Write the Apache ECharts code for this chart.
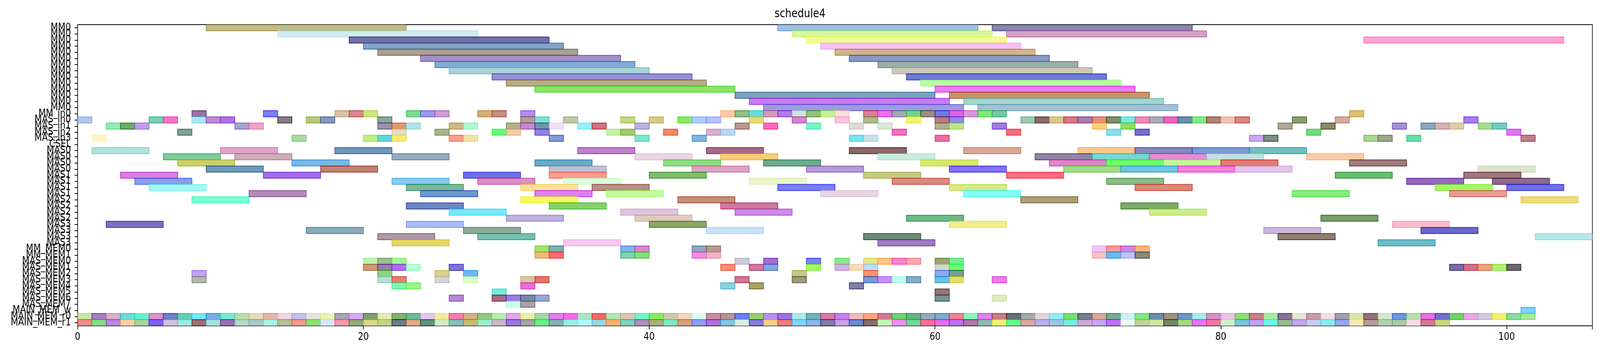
<!DOCTYPE html>
<html>
<head>
    <meta charset="utf-8">
    <script type="text/javascript" src="https://cdn.jsdelivr.net/npm/echarts@6/dist/echarts.min.js"></script>
    <style type="text/css">
        *{
            margin: 0;
            padding: 0;
        }
        html, body{
            width: 100%;
            height: 100%;
            overflow: hidden;
            background: #ffffff;
        }
        #main{
            width: 4826px;
            height: 900px;
            transform-origin: 0 0;
        }
    </style>
</head>
<body>
<div id="main"></div>
<script type="text/javascript">
    // y rows, top to bottom
    var rowLabels = [
        'MM0','MM0','MM0','MM0','MM0','MM0','MM0','MM0','MM0','MM0','MM0','MM0','MM0','MM0',
        'MM_in0','MAS_in0','MAS_in1','MAS_in2','MAS_in3','CSEL',
        'MAS0','MAS0','MAS0','MAS0','MAS1','MAS1','MAS1','MAS1',
        'MAS2','MAS2','MAS2','MAS2','MAS3','MAS3','MAS3','MAS3',
        'MM_MEM0','MM_MEM1',
        'MAS_MEM0','MAS_MEM1','MAS_MEM2','MAS_MEM3','MAS_MEM4','MAS_MEM5','MAS_MEM6','MAS_MEM7',
        'MAIN_MEM_w','MAIN_MEM_r0','MAIN_MEM_r1'
    ];

    var UNIT_LEN = 1; // short tasks take one time step

    // rows 0-13 : MM0 [start, end]
    var mmSpans = [
        [[9,23],[49,63],[64,78]],
        [[14,28],[50,64],[65,79]],
        [[19,33],[51,65],[90,104]],
        [[20,34],[52,66]],
        [[21,35],[53,67]],
        [[24,38],[54,68]],
        [[25,39],[56,70]],
        [[26,40],[57,71]],
        [[29,43],[58,72]],
        [[30,44],[59,73]],
        [[32,46],[60,74]],
        [[46,60],[61,75]],
        [[47,61],[62,76]],
        [[48,62],[63,77]]
    ];
    var mmColors = [
        ['#c0bc88','#9cc0e4','#8888b0'],
        ['#d0ecf0','#d8f89c','#d4a0c4'],
        ['#7070a8','#f4fc98','#fca4d4'],
        ['#84a4c8','#f8c0f8'],
        ['#a8a090','#d0b48c'],
        ['#a490c8','#8898c4'],
        ['#80acd8','#98b0a8'],
        ['#a8d4d8','#ccc8bc'],
        ['#9890d4','#6c7cd4'],
        ['#b8ac88','#bcfca8'],
        ['#8ce468','#ec7cf4'],
        ['#7ca4bc','#c89468'],
        ['#c87cf4','#a4d4cc'],
        ['#9c9ce0','#a4c0d4']
    ];

    // rows 14-19 : MM_in0 .. CSEL, start of each one-step task
    var inUnits = [
        [8,13,18,19,20,23,24,25,28,29,31,45,46,47,48,49,50,51,52,53,55,56,57,58,59,60,61,62,63,64,89],
        [0,5,6,8,9,10,14,16,17,21,31,32,34,38,40,42,43,44,47,50,53,55,58,60,61,66,67,68,69,70,71,72,73,74,75,76,77,78,79,80,81,85,88,97],
        [2,3,4,11,12,21,22,23,26,27,30,31,32,33,35,36,39,46,48,51,54,56,60,61,64,71,73,84,87,92,94,95,96,98,99],
        [7,22,25,29,30,32,37,38,41,44,45,57,65,72,74,86,100],
        [1,15,20,21,22,26,27,33,39,43,54,55,60,82,83,90,91,93,101],
        []
    ];
    var inColors = [
        ['#9c70a0','#7c80f8','#d4c4a4','#d48890','#d0e480','#80d890','#9c98ec','#cc9cd4','#d4b078','#c88c80','#b48cf4','#fcc8a8','#90bc88','#68dce4','#d49cbc','#b07ce8','#d0e4e0','#94c07c','#c8f098','#fce0d8','#dc8098','#e870ec','#a4a8b4','#6cd494','#9c9080','#6c7ce8','#e060e0','#d898d8','#80e880','#78c8a4','#dcc070'],
        ['#b0c8e8','#7cccb4','#f478c8','#a8e8f4','#bc8cd0','#b070e8','#887c88','#b8c880','#8898bc','#88a898','#b0a090','#80e0d4','#c0c8ac','#c0d888','#d8cc8c','#90e868','#b0ccf8','#b8c0fc','#e8d878','#d088c8','#f8c4e0','#acbc8c','#f4f078','#b87c84','#9488f0','#a0c8b4','#906870','#d8c890','#d87888','#a880b0','#e49080','#849068','#80e4e4','#e890b4','#a8aab8','#e864c0','#6894ac','#88e888','#b08478','#ecc4b8','#d88880','#8ca070','#d4aca0','#a880ec'],
        ['#90ecb0','#6cac68','#c0a0e8','#a8a0d4','#f0a4c8','#9c90b0','#e09870','#b0e4e4','#d0b888','#b0f8d4','#b0b48c','#c888d0','#7094ac','#f0e0f8','#98f0f8','#d07080','#b8b0dc','#bc9890','#fc68b8','#78f4c4','#dcdcd4','#d8e8d4','#b0b090','#bce888','#a07ce0','#fcd07c','#90e060','#b0a890','#8c8868','#a890d4','#88a8bc','#d8b0b0','#e0cca8','#a8dc90','#70ccc4'],
        ['#80a098','#e4dcc4','#a4b888','#64fc7c','#f0cca8','#9484e8','#c8f0a8','#a8c870','#f08c68','#d8b0cc','#b8d8f0','#f070c0','#f86c80','#8cdcec','#7870d0','#78d888','#dc78f4'],
        ['#fff8c0','#a8dca4','#bcf080','#64d4e0','#fce870','#fc9c8c','#f0e4a0','#8498d8','#80e4c8','#7cb4e4','#74e4f0','#c8e0e8','#f06ca4','#c8a8f4','#7c9080','#acd490','#9ca88c','#64dcac','#c08090'],
        []
    ];

    // rows 20-35 : MAS0 .. MAS3 [start, end]
    var masSpans = [
        [[1,5],[10,14],[18,22],[35,39],[44,48],[54,58],[62,66],[70,74],[74,78],[78,82],[82,86]],
        [[6,10],[11,15],[22,26],[39,43],[45,49],[56,60],[67,71],[71,75],[75,79],[79,83],[86,90]],
        [[7,11],[15,19],[32,36],[41,45],[48,52],[59,63],[68,72],[72,76],[76,80],[80,84],[89,93]],
        [[9,13],[17,21],[33,37],[43,47],[51,55],[61,65],[69,73],[73,77],[77,81],[81,85],[98,102]],
        [[3,7],[13,17],[27,31],[33,37],[40,44],[55,59],[65,69],[88,92],[97,101]],
        [[4,8],[22,26],[28,32],[34,38],[47,51],[57,61],[72,76],[93,97],[99,103]],
        [[5,9],[23,27],[31,35],[36,40],[49,53],[61,65],[74,78],[95,99],[100,104]],
        [[12,16],[24,28],[32,36],[37,41],[52,56],[62,66],[85,89],[96,100]],
        [[8,12],[31,35],[42,46],[66,70],[101,105]],
        [[23,27],[33,37],[45,49],[73,77]],
        [[26,30],[38,42],[46,50],[75,79]],
        [[30,34],[39,43],[58,62],[87,91]],
        [[2,6],[23,27],[40,44],[61,65],[92,96]],
        [[16,20],[27,31],[44,48],[83,87],[94,98]],
        [[21,25],[28,32],[55,59],[84,88],[102,106]],
        [[22,26],[34,38],[56,60],[91,95]]
    ];
    var masColors = [
        ['#b0e0dc','#e0a4c8','#7098bc','#c080cc','#a86888','#886868','#dca898','#f8c890','#8888c0','#7c9cd8','#70c0c0'],
        ['#80cc98','#d0acb8','#98acbc','#e8d4e4','#f8cc78','#c8ecdc','#9484a8','#78d8cc','#e090d0','#c4e0e0','#f8cca8'],
        ['#ccd070','#78b8e8','#68acc8','#90dc88','#6cac90','#d8e870','#dc88c8','#70fc70','#c8f4a0','#e07c74','#a07c80'],
        ['#6c9cb8','#c08470','#c0c0d4','#dca4c0','#b49cd4','#8470f8','#a0dc88','#70c4e0','#f680e0','#e4c4e8','#dce4d0'],
        ['#d880e0','#a46ce4','#7070e8','#fc9c90','#80bc6c','#c4cc88','#fc6c84','#68bc74','#a07880'],
        ['#8c9cf0','#88ccf0','#dc90c4','#dcfcdc','#ecf4cc','#d88c80','#8cbc88','#9868bc','#906890'],
        ['#a4f8f0','#7cb898','#fce098','#b89088','#7c80f8','#d8e88c','#dc8878','#a8f468','#7070e4'],
        ['#b48cb8','#6c98d0','#dc80f4','#c0fca0','#e8d4e4','#88fcf4','#88ec80','#e49c94'],
        ['#80fcd4','#f8f860','#c49078','#aca078','#ecdc84'],
        ['#6888c4','#84d468','#d078a0','#7cac64'],
        ['#78e8f8','#e0c4dc','#cc8ce4','#ccec8c'],
        ['#bcb0dc','#e0ccbc','#70b888','#78a068'],
        ['#8070c4','#a8bcf8','#8ca868','#f4ec8c','#fcbccc'],
        ['#88acbc','#8cac9c','#c4e4f8','#ccb4dc','#6c68c8'],
        ['#b098a4','#74c0b0','#6c8c78','#908070','#b4e8ec'],
        ['#e4d868','#f8c8f0','#a07cc4','#6cbcc8']
    ];

    // rows 36-48 : memories, start of each one-step task
    var memUnits = [
        [32,33,38,39,43,44,71,72,73,74],
        [32,33,38,39,43,44,71,72,73,74],
        [20,21,22,46,48,51,53,55,56,57,58,60,61],
        [20,21,22,23,26,45,47,48,51,53,54,55,60,61,96,97,98,99,100],
        [8,21,25,27,50,55,60,61],
        [8,21,22,25,27,31,32,46,50,55,56,57,58,60,61,64],
        [22,23,31,45,47,54],
        [29,60],
        [26,29,30,31,32,60,64],
        [30,31],
        [101],
        [0,1,2,3,4,5,6,7,8,9,10,11,12,13,14,15,16,17,18,19,20,21,22,23,24,25,26,27,28,29,30,31,32,33,34,35,36,37,38,39,40,41,42,43,44,45,46,47,48,49,50,
         51,52,53,54,55,56,57,58,59,60,61,62,63,64,65,66,67,68,69,70,71,72,73,74,75,76,77,78,79,80,81,82,83,84,85,86,87,88,89,90,91,92,93,94,95,96,97,98,99,100,101],
        [0,1,2,3,4,5,6,7,8,9,10,11,12,13,14,15,16,17,18,19,20,21,22,23,24,25,26,27,28,29,30,31,32,33,34,35,36,37,38,39,40,41,42,43,44,45,46,47,
         48,49,50,51,52,53,54,55,56,57,58,59,60,61,62,63,64,65,66,67,68,69,70,71,72,73,74,75,76,77,78,79,80,81,82,83,84,85,86,87,88,89,90,91,92,93,94,95]
    ];
    var memColors = [
        ['#a8e070','#80b0b0','#80b4ec','#dc88cc','#90a8c0','#b49c90','#ecc8fc','#f89898','#cc88dc','#fcb480'],
        ['#e8bc80','#f87070','#88d0ac','#8cdc80','#ec90dc','#ecb4c8','#f4c4c4','#6cbce8','#c0c4f8','#888c78'],
        ['#bcf4b0','#9cbc98','#a8f498','#ccccdc','#a86cd8','#7c84f8','#8ce890','#e4e488','#fcc488','#f488c8','#f8a8b0','#98a870','#78ec98'],
        ['#cc9c78','#9c7cac','#b070f0','#b8fcd4','#8074d4','#f89078','#d078a0','#88a4e0','#a8f860','#d4b4e0','#f4dcbc','#bcdcf8','#d4d8cc','#6cfc78','#8068a8','#d47090','#e8a488','#b0f078','#686870'],
        ['#c4a0f4','#8cd480','#dcd08c','#6cb8f8','#c8c888','#fc9470','#90a8f0','#78a098'],
        ['#b0b8ac','#b8dcd8','#e88070','#d4d4d4','#dcfcc8','#d8c8a4','#e07868','#d07890','#a09888','#7c9cd4','#c494f8','#c0fcec','#88acc4','#6cc0e0','#e0e070','#ec7ce4'],
        ['#80f8b0','#98f888','#ec6cd8','#8cd0e0','#a8a064','#8080a8'],
        ['#74ecdc','#987478'],
        ['#b488d4','#a86888','#a07ce0','#788aa4','#98a8d0','#789490','#dceac0'],
        ['#ccfcec','#aca0a8'],
        ['#7cd0fc'],
        ['#c8e6a8','#a080c0','#dcaec8','#6cdcd8','#62f5d0','#dc90d0','#7080c8','#68ccb8','#74e8f8','#74b0e0','#78e8d0','#bcdcac','#e4dcb8','#e4b8a8','#f0d8e0','#c4c0e8','#e4e4dc','#e8f4b0','#a8a4b4','#d8a8f8',
         '#84a068','#e0ecb0','#84b474','#6cbc94','#e4c8f0','#f4eca0','#f080b0','#d8b080','#94c888','#b4f0ac','#e0a8f0','#e8f4a8','#9cdca8','#e080f0','#f070e8','#a8e8c8','#f06868','#b0e8b0','#dcc4b8','#74f4c8',
         '#88ec60','#c8ccac','#f4d4b8','#d8fcf4','#c890a8','#b89498','#6a80f0','#98d068','#bc90e8','#a070e8','#a8ece8','#70b4bc','#dc78a8','#c880f0','#ecbcb8','#f8a880','#d47898','#70d470','#60b880','#98acc0',
         '#80a8d8','#f88098','#88f8b8','#e080f0','#c88080','#687078','#a8a8a8','#e4d4dc','#98ecf8','#78e070','#708090','#d8a898','#78a898','#c8f0f0','#80e880','#6890a8','#a09480','#7098c8','#a8ecec','#d890c8',
         '#ecc4e4','#90e070','#cc8088','#a8eea0','#887098','#e8e4d8','#c898b0','#f0e0e4','#a0a0b0','#e0e4a0','#987078','#d8e8d0','#6c98e0','#b8e0b0','#e870e0','#7070d0','#70d468','#e8a8e8','#d0ccdc','#f0f070',
         '#88dca0','#a8ec98'],
        ['#f08c88','#88dc88','#b888e0','#fcd0a0','#a8d4a0','#8060f8','#d0c0e0','#98ece0','#a07078','#a4e0e0','#9870b8','#b0dcc8','#acc8cc','#a8f0e0','#b4c098','#f49890','#90e070','#d8e8f8','#f898a8','#90ac78',
         '#d8d888','#c0d488','#6c8088','#e0a888','#5c9480','#d0ecc0','#88c0b8','#c8bc70','#a0ecc8','#c8b8c8','#9c78e0','#a8a4a8','#68f088','#88b0b8','#98f0e8','#b0f8f8','#98d8e0','#f8b070','#80d0c0','#b090c0',
         '#a8b078','#80e8c0','#d8a080','#90a0f8','#b070d8','#80c8e0','#d8ece4','#8878e0','#f8d088','#e88080','#80d8f8','#8cb8e8','#8480a8','#c8a0e8','#6888d0','#886c6c','#c0fcb0','#f090f0','#70d8a0','#f87098',
         '#e070e8','#c070f0','#b078a8','#90bcb0','#f0f078','#68f890','#d8a8a8','#b8b0e8','#98c8e0','#78ece0','#d0a8d8','#c8a8f0','#c070f8','#ecfcf8','#c0d498','#d0e4a0','#708868','#a4d880','#e078f8','#f078a8',
         '#d0f0d0','#78c8d8','#c0a0f8','#70f8e8','#9cb890','#c0a8e8','#c8ccf0','#88ecf0','#98a8f0','#f8eab0','#b89c98','#b0d0b0','#a8c8a8','#f8dce4','#d87898','#c8d878']
    ];

    var tasks = [];
    function addSpans(firstRow, spans, colors) {
        spans.forEach(function (row, i) {
            row.forEach(function (s, j) {
                tasks.push({ value: [s[0], s[1], firstRow + i], color: colors[i][j] });
            });
        });
    }
    function addUnits(firstRow, units, colors) {
        units.forEach(function (row, i) {
            row.forEach(function (s, j) {
                tasks.push({ value: [s, s + UNIT_LEN, firstRow + i], color: colors[i][j] });
            });
        });
    }
    addSpans(0, mmSpans, mmColors);
    addUnits(14, inUnits, inColors);
    addSpans(20, masSpans, masColors);
    addUnits(36, memUnits, memColors);

    // face colour is the tint seen on white (alpha .5), edge is the stronger base colour
    function edgeOf(hex) {
        var r = parseInt(hex.substr(1, 2), 16), g = parseInt(hex.substr(3, 2), 16), b = parseInt(hex.substr(5, 2), 16);
        function base(v) { return Math.max(0, 2 * v - 255); }
        return 'rgba(' + base(r) + ',' + base(g) + ',' + base(b) + ',0.7)';
    }

    function renderItem(params, api) {
        var row = api.value(2);
        var p0 = api.coord([api.value(0), row]);
        var p1 = api.coord([api.value(1), row]);
        var h = api.size([0, 1])[1];
        var c = tasks[params.dataIndex].color;
        return {
            type: 'rect',
            shape: { x: p0[0], y: p0[1] - h / 2, width: p1[0] - p0[0], height: h },
            style: { fill: c, stroke: edgeOf(c), lineWidth: 2 }
        };
    }

    // the figure is laid out at 4826x900 and fitted to whatever window we get
    var box = document.getElementById('main');
    box.style.transform = 'scale(' + (window.innerWidth / 4826) + ',' + (window.innerHeight / 900) + ')';

    var myChart = echarts.init(box, null, { width: 4826, height: 900 });
    var option = {
        backgroundColor: '#ffffff',
        animation: false,
        title: {
            text: 'schedule4',
            left: 'center',
            top: 16,
            textStyle: { fontSize: 30, fontWeight: 'normal', color: '#000', fontFamily: 'DejaVu Sans' }
        },
        grid: {
            left: 234, right: 23, top: 63, bottom: 67,
            show: true, borderColor: '#000', borderWidth: 2
        },
        xAxis: {
            type: 'value',
            min: 0,
            max: 106,
            interval: 20,
            splitLine: { show: false },
            axisLine: { show: true, lineStyle: { color: '#000', width: 2 } },
            axisTick: { show: true, length: 9, lineStyle: { color: '#000', width: 2 } },
            axisLabel: {
                fontSize: 26, color: '#000', margin: 16, fontFamily: 'DejaVu Sans',
                formatter: function (v) { return v % 20 === 0 ? String(v) : ''; }
            }
        },
        yAxis: {
            type: 'category',
            data: rowLabels,
            inverse: true,
            axisLine: { show: true, lineStyle: { color: '#000', width: 2 } },
            axisTick: { show: true, alignWithLabel: true, interval: 0, length: 9, lineStyle: { color: '#000', width: 2 } },
            axisLabel: { interval: 0, fontSize: 26, color: '#000', margin: 20, fontFamily: 'DejaVu Sans' },
            splitLine: { show: false }
        },
        series: [{
            type: 'custom',
            renderItem: renderItem,
            encode: { x: [0, 1], y: 2 },
            clip: true,
            data: tasks.map(function (t) { return t.value; })
        }]
    };
    myChart.setOption(option);
</script>
</body>
</html>
